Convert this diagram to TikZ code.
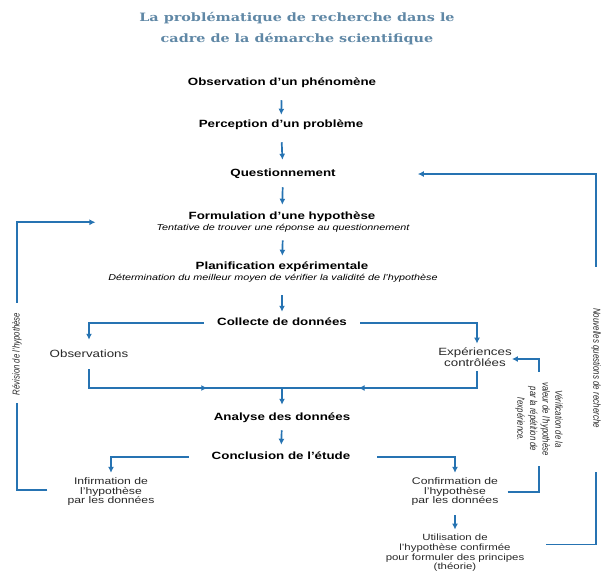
\documentclass[tikz,border=0pt]{standalone}
\usepackage{fontspec}
\setmainfont{Liberation Sans}[FakeStretch=1.27]
\newfontfamily\rotfont{Liberation Sans}[FakeStretch=0.78]
\newfontfamily\titlefont{DejaVu Serif}[FakeStretch=1.25]
\usetikzlibrary{arrows.meta,decorations.markings}
\definecolor{flow}{RGB}{38,115,178}
\definecolor{titleblue}{RGB}{96,136,166}
\definecolor{txt}{RGB}{40,40,40}
\tikzset{
  flowline/.style={draw=flow, line width=1.7pt},
  arr/.style={flowline, -{Latex[length=6pt,width=6pt]}},
  head/.style={font=\bfseries\fontsize{10.5}{12}\selectfont, text=black, inner sep=0pt, text height=7.8pt, text depth=2.3pt},
  subline/.style={font=\itshape\fontsize{8.5}{10}\selectfont, text=black, inner sep=0pt, text height=6.3pt, text depth=1.9pt},
  lbl/.style={font=\fontsize{10.5}{10.5}\selectfont, text=txt, inner sep=0pt, align=center},
  smalllbl/.style={font=\fontsize{9.6}{9.5}\selectfont, text=txt, inner sep=0pt, align=center},
  rotlbl/.style={font=\rotfont\itshape\fontsize{10}{12.5}\selectfont, text=txt, inner sep=0pt, align=center},
  midarrow/.style={postaction={decorate}, decoration={markings, mark=at position #1 with {\arrow{Latex[length=6pt,width=6pt]}}}}
}
\begin{document}
\begin{tikzpicture}[x=1pt,y=-1pt]
\useasboundingbox (0,0) rectangle (601,576);
% title
\node[font=\titlefont\bfseries\fontsize{11.5}{21}\selectfont, text=titleblue, align=center, inner sep=0pt] (title) at (297,29)
  {La problématique de recherche dans le\\cadre de la démarche scientifique};
% main column
\node[head] (obs) at (282,83) {Observation d’un phénomène};
\node[head] (perc) at (281,125) {Perception d’un problème};
\node[head] (quest) at (283,174) {Questionnement};
\node[head] (form) at (282,217) {Formulation d’une hypothèse};
\node[subline] (formsub) at (283,228) {Tentative de trouver une réponse au questionnement};
\node[head] (plan) at (282,267) {Planification expérimentale};
\node[subline] (plansub) at (273,278) {Détermination du meilleur moyen de vérifier la validité de l’hypothèse};
\node[head] (coll) at (282,323) {Collecte de données};
\node[lbl, text height=7.8pt, text depth=2.3pt] (obsv) at (89,355) {Observations};
\node[lbl] (exper) at (475,357) {Expériences\\contrôlées};
\node[head] (anal) at (282,418) {Analyse des données};
\node[head] (concl) at (281,457) {Conclusion de l’étude};
\node[smalllbl] (infirm) at (111,492) {Infirmation de\\l’hypothèse\\par les données};
\node[smalllbl] (confirm) at (455,492) {Confirmation de\\l’hypothèse\\par les données};
\node[smalllbl, font=\fontsize{9}{9.7}\selectfont] (util) at (455,553) {Utilisation de\\l’hypothèse confirmée\\pour formuler des principes\\(théorie)};
% rotated side labels
\node[rotlbl, rotate=90] (rev) at (17,354) {Révision de l’hypothèse};
\node[rotlbl, rotate=-90, font=\rotfont\itshape\fontsize{10.2}{12}\selectfont] (nouv) at (596,368) {Nouvelles questions de recherche};
\node[rotlbl, rotate=-90, font=\rotfont\itshape\fontsize{10}{12.7}\selectfont] (verif) at (539,419) {Vérification de la\\valeur de l’hypothèse\\par la répétition de\\l’expérience.};
% straight arrows
\draw[arr, shorten <=12pt, shorten >=5pt] (obs) -- (perc);
\draw[arr, shorten <=12pt, shorten >=9pt] (perc) -- (quest);
\draw[arr, shorten <=8pt, shorten >=7pt] (quest) -- (form);
\draw[arr, shorten <=8pt, shorten >=6pt] (formsub) -- (plan);
\draw[arr, shorten <=13pt, shorten >=6pt] (plansub.south -| plan) -- (coll);
% collecte branches
\draw[arr, shorten <=13pt, shorten >=10pt] (coll.west) -| (obsv.north);
\draw[arr, shorten <=13pt, shorten >=4pt] (coll.east) -| ([xshift=2pt]exper.north);
% merge
\coordinate (merge) at (282,388);
\draw[flowline, midarrow=137pt] ([yshift=-9pt]obsv.south) |- (merge);
\draw[flowline, midarrow=135pt] ([xshift=2pt,yshift=-5pt]exper.south) |- (merge);
\draw[arr, shorten >=8pt] (merge) -- (anal);
\draw[arr, shorten <=7pt, shorten >=7pt] (anal) -- (concl);
% conclusion branches
\draw[arr, shorten <=23pt, shorten >=5pt] (concl.west) -| (infirm.north);
\draw[arr, shorten <=27pt, shorten >=5pt] (concl.east) -| (confirm.north);
\draw[arr, shorten <=9pt, shorten >=4.5pt] (confirm) -- (util);
% revision loop
\draw[flowline, shorten <=20pt, shorten >=8pt] ([yshift=2pt]infirm.west) -| (rev);
\draw[arr, shorten <=10pt, shorten >=93pt] (rev) |- (form.south west);
% nouvelles questions loop
\draw[flowline, shorten <=22pt, shorten >=44pt] ([yshift=8.5pt]util.east) -| (nouv);
\draw[arr, shorten <=41pt, shorten >=82pt] (nouv) |- (quest);
% verification loop
\draw[flowline, shorten <=9pt, shorten >=10pt] (confirm.east) -| (verif);
\draw[arr, shorten <=10pt] (verif) |- ([yshift=-2pt]exper.east);
\end{tikzpicture}
\end{document}
